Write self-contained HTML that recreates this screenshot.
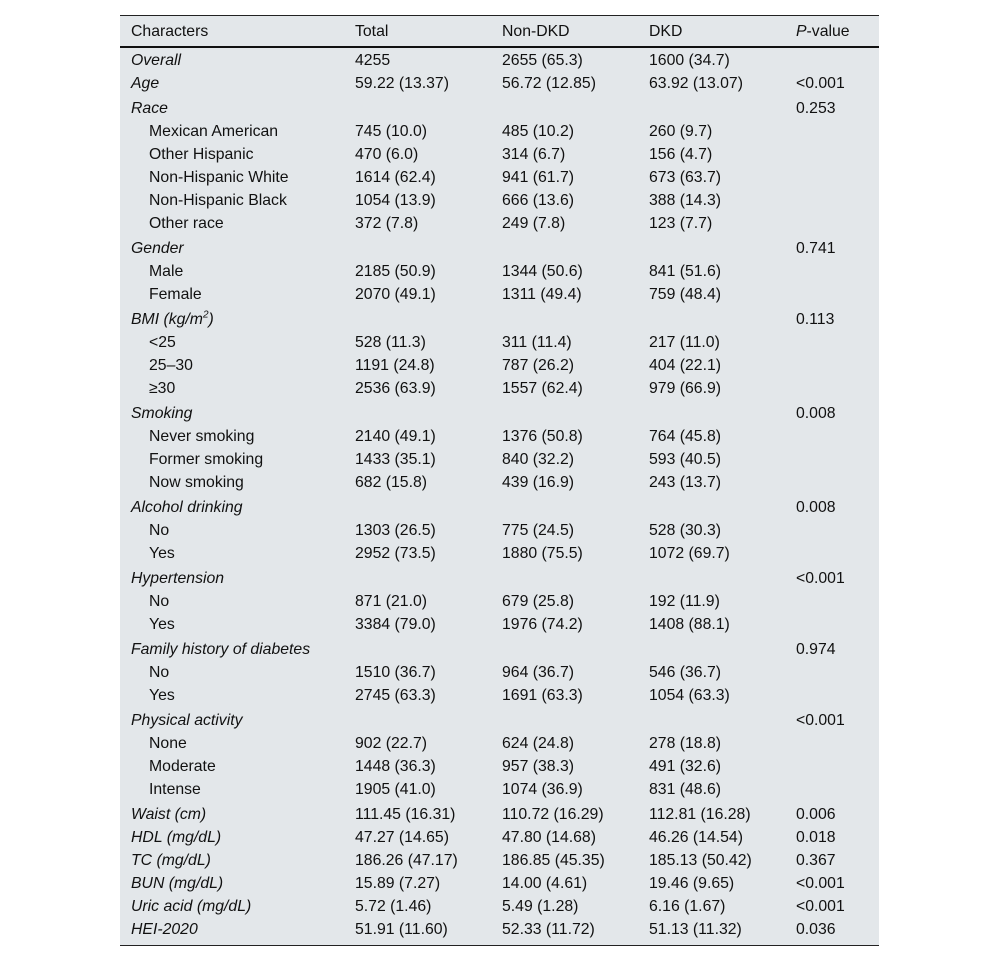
<!DOCTYPE html>
<html><head><meta charset="utf-8"><style>
body{margin:0;width:1000px;height:962px;background:#fff;position:relative;font-family:"Liberation Sans",sans-serif;font-size:15.8px;color:#111;overflow:hidden}
#t{position:absolute;left:120px;top:15px;width:759px;height:931px;background:#e3e7ea;border-top:1px solid #222;border-bottom:1px solid #222;box-sizing:border-box}
#hl{position:absolute;left:120px;top:46px;width:759px;height:2px;background:#111}
.r{position:absolute;left:0;height:20px;line-height:20px;white-space:nowrap}
.r span{position:absolute;top:0}
.i{font-style:italic}
</style></head><body>
<div id="t"></div><div id="hl"></div>
<div id="rows"></div>
<script>
const d=[
[31,'Characters','Total','Non-DKD','DKD','<i>P</i>-value',0,0],
[60,'Overall','4255','2655 (65.3)','1600 (34.7)','',1,0],
[83,'Age','59.22 (13.37)','56.72 (12.85)','63.92 (13.07)','&lt;0.001',1,0],
[108,'Race','','','','0.253',1,0],
[131,'Mexican American','745 (10.0)','485 (10.2)','260 (9.7)','',0,1],
[154,'Other Hispanic','470 (6.0)','314 (6.7)','156 (4.7)','',0,1],
[177,'Non-Hispanic White','1614 (62.4)','941 (61.7)','673 (63.7)','',0,1],
[200,'Non-Hispanic Black','1054 (13.9)','666 (13.6)','388 (14.3)','',0,1],
[223,'Other race','372 (7.8)','249 (7.8)','123 (7.7)','',0,1],
[248,'Gender','','','','0.741',1,0],
[271,'Male','2185 (50.9)','1344 (50.6)','841 (51.6)','',0,1],
[294,'Female','2070 (49.1)','1311 (49.4)','759 (48.4)','',0,1],
[319,'BMI (kg/m<sup style="font-size:10px;line-height:0">2</sup>)','','','','0.113',1,0],
[342,'&lt;25','528 (11.3)','311 (11.4)','217 (11.0)','',0,1],
[365,'25–30','1191 (24.8)','787 (26.2)','404 (22.1)','',0,1],
[388,'≥30','2536 (63.9)','1557 (62.4)','979 (66.9)','',0,1],
[413,'Smoking','','','','0.008',1,0],
[436,'Never smoking','2140 (49.1)','1376 (50.8)','764 (45.8)','',0,1],
[459,'Former smoking','1433 (35.1)','840 (32.2)','593 (40.5)','',0,1],
[482,'Now smoking','682 (15.8)','439 (16.9)','243 (13.7)','',0,1],
[507,'Alcohol drinking','','','','0.008',1,0],
[530,'No','1303 (26.5)','775 (24.5)','528 (30.3)','',0,1],
[553,'Yes','2952 (73.5)','1880 (75.5)','1072 (69.7)','',0,1],
[578,'Hypertension','','','','&lt;0.001',1,0],
[601,'No','871 (21.0)','679 (25.8)','192 (11.9)','',0,1],
[624,'Yes','3384 (79.0)','1976 (74.2)','1408 (88.1)','',0,1],
[649,'Family history of diabetes','','','','0.974',1,0],
[672,'No','1510 (36.7)','964 (36.7)','546 (36.7)','',0,1],
[695,'Yes','2745 (63.3)','1691 (63.3)','1054 (63.3)','',0,1],
[720,'Physical activity','','','','&lt;0.001',1,0],
[743,'None','902 (22.7)','624 (24.8)','278 (18.8)','',0,1],
[766,'Moderate','1448 (36.3)','957 (38.3)','491 (32.6)','',0,1],
[789,'Intense','1905 (41.0)','1074 (36.9)','831 (48.6)','',0,1],
[814,'Waist (cm)','111.45 (16.31)','110.72 (16.29)','112.81 (16.28)','0.006',1,0],
[837,'HDL (mg/dL)','47.27 (14.65)','47.80 (14.68)','46.26 (14.54)','0.018',1,0],
[860,'TC (mg/dL)','186.26 (47.17)','186.85 (45.35)','185.13 (50.42)','0.367',1,0],
[883,'BUN (mg/dL)','15.89 (7.27)','14.00 (4.61)','19.46 (9.65)','&lt;0.001',1,0],
[906,'Uric acid (mg/dL)','5.72 (1.46)','5.49 (1.28)','6.16 (1.67)','&lt;0.001',1,0],
[929,'HEI-2020','51.91 (11.60)','52.33 (11.72)','51.13 (11.32)','0.036',1,0]];
let h='';
for(const r of d){
 h+=`<div class="r" style="top:${r[0]-9}px"><span class="${r[6]?'i':''}" style="left:${r[7]?149:131}px">${r[1]}</span><span style="left:355px">${r[2]}</span><span style="left:502px">${r[3]}</span><span style="left:649px">${r[4]}</span><span style="left:796px">${r[5]}</span></div>`;
}
document.getElementById('rows').innerHTML=h;
</script>
</body></html>
